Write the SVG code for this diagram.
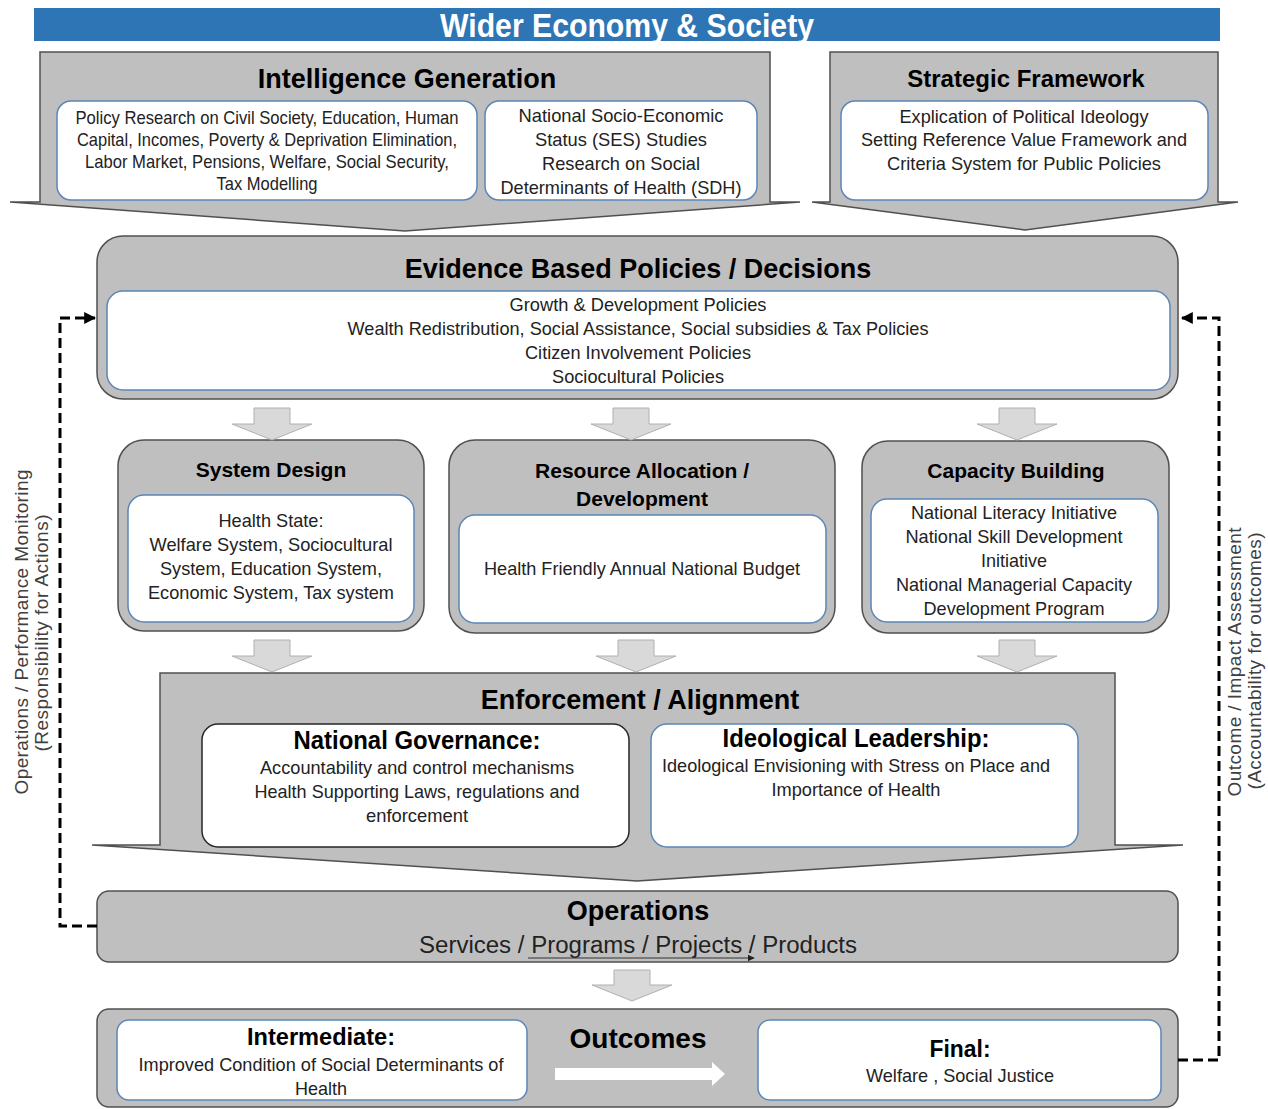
<svg xmlns="http://www.w3.org/2000/svg" width="1268" height="1109" viewBox="0 0 1268 1109">
<defs>
<style>
.outer{fill:#BFBFBF;stroke:#505050;stroke-width:1.5}
.inner{fill:#FFFFFF;stroke:#5B86B8;stroke-width:1.5}
.innerdk{fill:#FFFFFF;stroke:#262626;stroke-width:1.5}
.barrow{fill:#D9D9D9;stroke:#B0B0B0;stroke-width:1}
.dash{fill:none;stroke:#000;stroke-width:3;stroke-dasharray:10 5}
.t{font-family:"Liberation Sans",Arial,sans-serif;font-weight:bold;fill:#000;text-anchor:middle}
.b{font-family:"Liberation Sans",Arial,sans-serif;font-size:19px;fill:#222;text-anchor:middle}
.side{font-family:"Liberation Sans",Arial,sans-serif;font-size:19px;fill:#404040;text-anchor:middle}
</style>
<marker id="ah" viewBox="0 0 10 10" refX="9" refY="5" markerWidth="4" markerHeight="4" orient="auto" markerUnits="strokeWidth">
<path d="M0 0 L10 5 L0 10 Z" fill="#000"/>
</marker>
<marker id="ahs" viewBox="0 0 10 10" refX="9" refY="5" markerWidth="6" markerHeight="6" orient="auto" markerUnits="strokeWidth">
<path d="M0 0 L10 5 L0 10 Z" fill="#222"/>
</marker>
</defs>

<g id="banner">
<rect x="34" y="8" width="1186" height="33" fill="#2E75B6"/>
<text x="627" y="37" class="t" font-size="33" style="fill:#fff" textLength="374" lengthAdjust="spacingAndGlyphs">Wider Economy &amp; Society</text>
</g>

<g id="intelligence-generation">
<path class="outer" d="M40 52 H770 V202 H800 L405 231 L10 202 H40 Z"/>
<text x="407" y="88" class="t" font-size="27">Intelligence Generation</text>
<rect class="inner" x="57" y="101" width="420" height="99" rx="14"/>
<text class="b" x="267" y="124" textLength="383" lengthAdjust="spacingAndGlyphs">Policy Research on Civil Society, Education, Human</text>
<text class="b" x="267" y="146" textLength="380" lengthAdjust="spacingAndGlyphs">Capital, Incomes, Poverty &amp; Deprivation Elimination,</text>
<text class="b" x="267" y="168" textLength="364" lengthAdjust="spacingAndGlyphs">Labor Market, Pensions, Welfare, Social Security,</text>
<text class="b" x="267" y="190" textLength="101" lengthAdjust="spacingAndGlyphs">Tax Modelling</text>
<rect class="inner" x="485" y="101" width="272" height="99" rx="14"/>
<text class="b" x="621" y="122" textLength="205" lengthAdjust="spacingAndGlyphs">National Socio-Economic</text>
<text class="b" x="621" y="146" textLength="172" lengthAdjust="spacingAndGlyphs">Status (SES) Studies</text>
<text class="b" x="621" y="170" textLength="158" lengthAdjust="spacingAndGlyphs">Research on Social</text>
<text class="b" x="621" y="194" textLength="241" lengthAdjust="spacingAndGlyphs">Determinants of Health (SDH)</text>
</g>

<g id="strategic-framework">
<path class="outer" d="M830 52 H1218 V202 H1238 L1025 230 L812 202 H830 Z"/>
<text x="1026" y="87" class="t" font-size="24">Strategic Framework</text>
<rect class="inner" x="841" y="101" width="367" height="99" rx="14"/>
<text class="b" x="1024" y="123" textLength="249" lengthAdjust="spacingAndGlyphs">Explication of Political Ideology</text>
<text class="b" x="1024" y="146" textLength="326" lengthAdjust="spacingAndGlyphs">Setting Reference Value Framework and</text>
<text class="b" x="1024" y="170" textLength="274" lengthAdjust="spacingAndGlyphs">Criteria System for Public Policies</text>
</g>

<g id="evidence-based-policies">
<rect class="outer" x="97" y="236" width="1081" height="163" rx="26"/>
<text x="638" y="278" class="t" font-size="27">Evidence Based Policies / Decisions</text>
<rect class="inner" x="107" y="291" width="1063" height="99" rx="16"/>
<text class="b" x="638" y="311" textLength="257" lengthAdjust="spacingAndGlyphs">Growth &amp; Development Policies</text>
<text class="b" x="638" y="335" textLength="581" lengthAdjust="spacingAndGlyphs">Wealth Redistribution, Social Assistance, Social subsidies &amp; Tax  Policies</text>
<text class="b" x="638" y="359" textLength="226" lengthAdjust="spacingAndGlyphs">Citizen Involvement Policies</text>
<text class="b" x="638" y="383" textLength="172" lengthAdjust="spacingAndGlyphs">Sociocultural Policies</text>
</g>

<g id="system-design">
<rect class="outer" x="118" y="440" width="306" height="191" rx="26"/>
<text x="271" y="477" class="t" font-size="21">System Design</text>
<rect class="inner" x="128" y="495" width="286" height="127" rx="16"/>
<text class="b" x="271" y="527" textLength="105" lengthAdjust="spacingAndGlyphs">Health State:</text>
<text class="b" x="271" y="551" textLength="243" lengthAdjust="spacingAndGlyphs">Welfare System, Sociocultural</text>
<text class="b" x="271" y="575" textLength="222" lengthAdjust="spacingAndGlyphs">System, Education System,</text>
<text class="b" x="271" y="599" textLength="246" lengthAdjust="spacingAndGlyphs">Economic System, Tax  system</text>
</g>

<g id="resource-allocation">
<rect class="outer" x="449" y="440" width="386" height="193" rx="26"/>
<text class="t" font-size="21"><tspan x="642" y="478">Resource Allocation /</tspan><tspan x="642" y="506">Development</tspan></text>
<rect class="inner" x="459" y="515" width="367" height="108" rx="16"/>
<text class="b" x="642" y="575" textLength="316" lengthAdjust="spacingAndGlyphs">Health Friendly Annual National Budget</text>
</g>

<g id="capacity-building">
<rect class="outer" x="862" y="441" width="307" height="192" rx="26"/>
<text x="1016" y="478" class="t" font-size="21">Capacity Building</text>
<rect class="inner" x="871" y="499" width="287" height="123" rx="16"/>
<text class="b" x="1014" y="519" textLength="206" lengthAdjust="spacingAndGlyphs">National Literacy Initiative</text>
<text class="b" x="1014" y="543" textLength="217" lengthAdjust="spacingAndGlyphs">National Skill Development</text>
<text class="b" x="1014" y="567" textLength="66" lengthAdjust="spacingAndGlyphs">Initiative</text>
<text class="b" x="1014" y="591" textLength="236" lengthAdjust="spacingAndGlyphs">National Managerial Capacity</text>
<text class="b" x="1014" y="615" textLength="181" lengthAdjust="spacingAndGlyphs">Development Program</text>
</g>

<g id="enforcement-alignment">
<path class="outer" d="M160 673 H1115 V845 H1183 L637 881 L92 845 H160 Z"/>
<text x="640" y="709" class="t" font-size="27">Enforcement / Alignment</text>
<rect class="innerdk" x="202" y="724" width="427" height="123" rx="16"/>
<text x="417" y="749" class="t" font-size="25" textLength="247" lengthAdjust="spacingAndGlyphs">National  Governance:</text>
<text class="b" x="417" y="774" textLength="314" lengthAdjust="spacingAndGlyphs">Accountability and control mechanisms</text>
<text class="b" x="417" y="798" textLength="325" lengthAdjust="spacingAndGlyphs">Health Supporting Laws, regulations and</text>
<text class="b" x="417" y="822" textLength="102" lengthAdjust="spacingAndGlyphs">enforcement</text>
<rect class="inner" x="651" y="724" width="427" height="123" rx="16"/>
<text x="856" y="747" class="t" font-size="25" textLength="267" lengthAdjust="spacingAndGlyphs">Ideological  Leadership:</text>
<text class="b" x="856" y="772" textLength="388" lengthAdjust="spacingAndGlyphs">Ideological Envisioning with Stress on Place and</text>
<text class="b" x="856" y="796" textLength="169" lengthAdjust="spacingAndGlyphs">Importance of Health</text>
</g>

<g id="operations">
<rect class="outer" x="97" y="891" width="1081" height="71" rx="12"/>
<text x="638" y="920" class="t" font-size="27">Operations</text>
<text x="638" y="953" class="b" style="font-size:23px" textLength="438" lengthAdjust="spacingAndGlyphs">Services  / Programs  / Projects  / Products</text>
</g>

<g id="outcomes">
<rect class="outer" x="97" y="1009" width="1081" height="98" rx="12"/>
<text x="638" y="1048" class="t" font-size="28">Outcomes</text>
<rect class="inner" x="117" y="1020" width="410" height="80" rx="12"/>
<text x="321" y="1045" class="t" font-size="24" textLength="148" lengthAdjust="spacingAndGlyphs">Intermediate:</text>
<text class="b" x="321" y="1071" textLength="365" lengthAdjust="spacingAndGlyphs">Improved Condition of Social Determinants of</text>
<text class="b" x="321" y="1095" textLength="52" lengthAdjust="spacingAndGlyphs">Health</text>
<rect class="inner" x="758" y="1020" width="403" height="80" rx="12"/>
<text x="960" y="1057" class="t" font-size="24" textLength="61" lengthAdjust="spacingAndGlyphs">Final:</text>
<text class="b" x="960" y="1082" textLength="188" lengthAdjust="spacingAndGlyphs">Welfare , Social Justice</text>
<path d="M555 1068 H712 V1062 L725 1074 L712 1086 V1080 H555 Z" fill="#FFFFFF"/>
</g>

<g id="connectors">
<path class="barrow" d="M254 408 H290 V424 H312 L272 440 L232 424 H254 Z"/>
<path class="barrow" d="M613 408 H649 V424 H671 L631 440 L591 424 H613 Z"/>
<path class="barrow" d="M999 408 H1035 V424 H1057 L1017 440 L977 424 H999 Z"/>
<path class="barrow" d="M254 640 H290 V656 H312 L272 672 L232 656 H254 Z"/>
<path class="barrow" d="M618 640 H654 V656 H676 L636 672 L596 656 H618 Z"/>
<path class="barrow" d="M999 640 H1035 V656 H1057 L1017 672 L977 656 H999 Z"/>
<path class="barrow" d="M614 970 H650 V985 H672 L632 1001 L592 985 H614 Z"/>
<path class="dash" d="M97 926 H60 V318 H95" marker-end="url(#ah)"/>
<path class="dash" d="M1178 1060 H1219 V318 H1182" marker-end="url(#ah)"/>
<path d="M528 958 H754" fill="none" stroke="#333" stroke-width="1.2" marker-end="url(#ahs)"/>
</g>

<g id="side-labels">
<text class="side" transform="translate(28,632) rotate(-90)" textLength="325" lengthAdjust="spacing">Operations / Performance Monitoring</text>
<text class="side" transform="translate(48,633) rotate(-90)" textLength="237" lengthAdjust="spacing">(Responsibility for Actions)</text>
<text class="side" transform="translate(1241,662) rotate(-90)" textLength="269" lengthAdjust="spacing">Outcome / Impact Assessment</text>
<text class="side" transform="translate(1261,661) rotate(-90)" textLength="257" lengthAdjust="spacing">(Accountability for outcomes)</text>
</g>
</svg>
